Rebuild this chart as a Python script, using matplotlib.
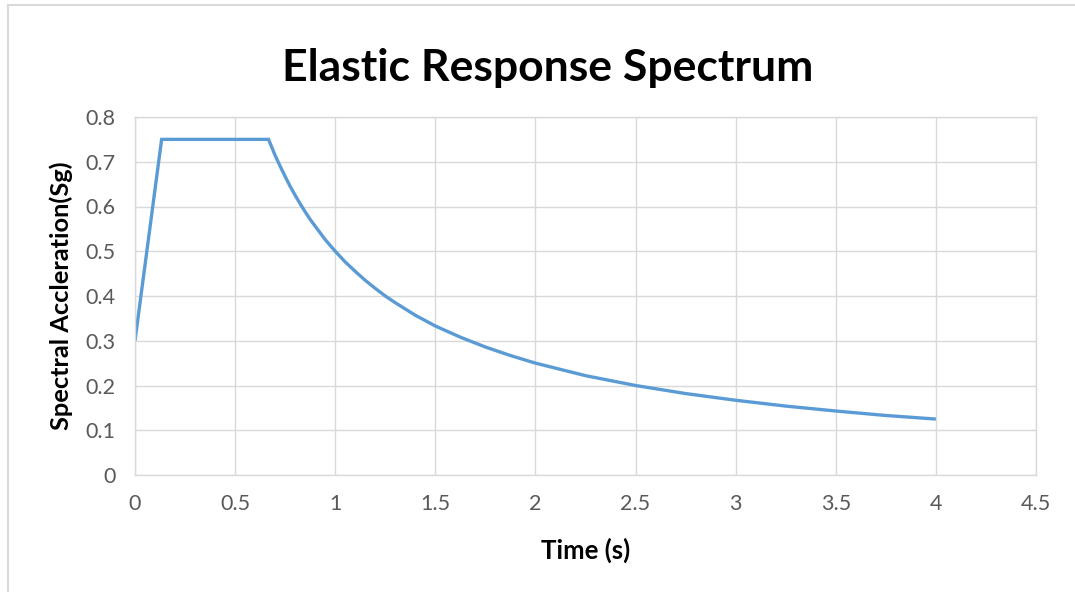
import matplotlib
matplotlib.use("Agg")
import matplotlib.pyplot as plt
from matplotlib.patches import Rectangle

# Data
period_s = [0.0, 0.133, 0.667, 0.7, 0.725, 0.75, 0.775, 0.8, 0.825, 0.85, 0.875, 0.9, 0.95,
            1.0, 1.05, 1.1, 1.15, 1.2, 1.25, 1.3, 1.4, 1.5, 1.625, 1.75, 1.875, 2.0,
            2.25, 2.5, 2.75, 3.0, 3.25, 3.5, 3.75, 4.0]
spectral_acc = [0.30, 0.75, 0.75, 0.714, 0.690, 0.667, 0.645, 0.625, 0.606, 0.588, 0.571,
                0.556, 0.526, 0.50, 0.476, 0.455, 0.435, 0.417, 0.40, 0.385, 0.357, 0.333,
                0.308, 0.286, 0.267, 0.25, 0.222, 0.20, 0.182, 0.167, 0.154, 0.143,
                0.133, 0.125]
x_ticks = [0, 0.5, 1, 1.5, 2, 2.5, 3, 3.5, 4, 4.5]
x_tick_labels = ["0", "0.5", "1", "1.5", "2", "2.5", "3", "3.5", "4", "4.5"]
y_ticks = [0, 0.1, 0.2, 0.3, 0.4, 0.5, 0.6, 0.7, 0.8]
y_tick_labels = ["0", "0.1", "0.2", "0.3", "0.4", "0.5", "0.6", "0.7", "0.8"]

plt.rcParams['font.family'] = ['Lato', 'DejaVu Sans']

W, H = 1075, 592
fig = plt.figure(figsize=(W / 100, H / 100), dpi=100)
fig.patch.set_facecolor('white')

# outer chart border
fig.patches.append(Rectangle((8 / W, -0.1), 1.2, (H - 5) / H + 0.1, transform=fig.transFigure,
                             fill=False, edgecolor='#D9D9D9', linewidth=1.5))

left, right, top, bottom = 135, 1036, 117, 475
ax = fig.add_axes([left / W, 1 - bottom / H, (right - left) / W, (bottom - top) / H])

ax.plot(period_s, spectral_acc, color='#5B9BD5', linewidth=2.4, solid_capstyle='butt',
        solid_joinstyle='miter')

ax.set_xlim(0, 4.5)
ax.set_ylim(0, 0.8)
ax.set_xticks(x_ticks)
ax.set_xticklabels(x_tick_labels)
ax.set_yticks(y_ticks)
ax.set_yticklabels(y_tick_labels)
ax.grid(True, color='#D9D9D9', linewidth=1.0)
ax.set_axisbelow(True)
for s in ax.spines.values():
    s.set_color('#D9D9D9')
    s.set_linewidth(1.0)
ax.tick_params(length=0, labelsize=15.5, labelcolor='#595959')
ax.tick_params(axis='x', pad=14)
ax.tick_params(axis='y', pad=14)

fig.text(548 / W, 1 - 68 / H, "Elastic Response Spectrum", ha='center', va='center',
         fontsize=32, fontweight='bold', color='black')
fig.text(586 / W, 1 - 550 / H, "Time (s)", ha='center', va='center',
         fontsize=18.5, fontweight='bold', color='black')
fig.text(61 / W, 1 - 296 / H, "Spectral Accleration(Sg)", ha='center', va='center',
         rotation=90, fontsize=18.3, fontweight='bold', color='black')

fig.savefig("out.png", dpi=100)
